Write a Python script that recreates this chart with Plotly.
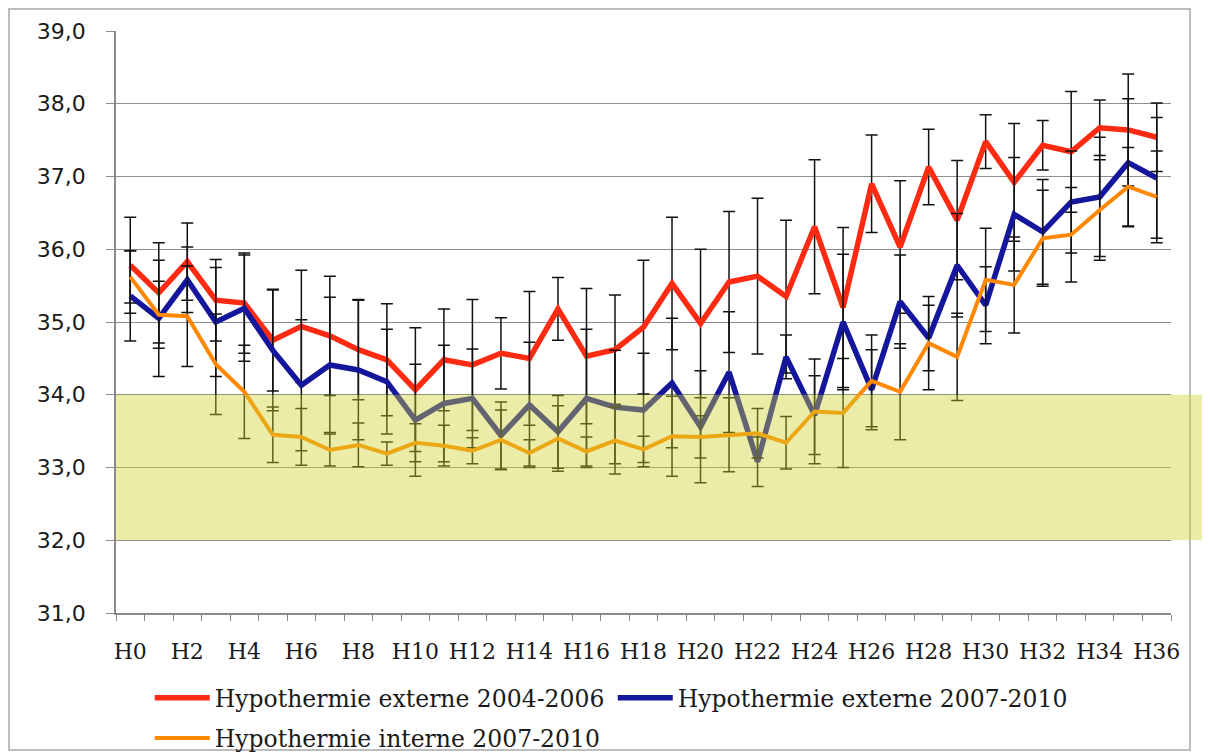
import plotly.graph_objects as go

# --- data ---
hours = [f"H{i}" for i in range(37)]

ext_0406 = [35.78, 35.40, 35.83, 35.30, 35.26, 34.75, 34.94, 34.81, 34.62, 34.48,
            34.07, 34.48, 34.41, 34.57, 34.50, 35.18, 34.53, 34.62, 34.93, 35.53,
            34.98, 35.55, 35.63, 35.35, 36.31, 35.20, 36.90, 36.03, 37.13, 36.40,
            37.48, 36.92, 37.43, 37.34, 37.67, 37.64, 37.54]
ext_0406_sd = [0.66, 0.69, 0.53, 0.56, 0.69, 0.70, 0.77, 0.82, 0.69, 0.77,
               0.85, 0.70, 0.90, 0.49, 0.92, 0.43, 0.93, 0.75, 0.92, 0.91,
               1.02, 0.97, 1.07, 1.05, 0.92, 1.10, 0.67, 0.91, 0.52, 0.82,
               0.37, 0.81, 0.34, 0.83, 0.38, 0.77, 0.47]

ext_0710 = [35.36, 35.05, 35.58, 35.00, 35.19, 34.61, 34.13, 34.41, 34.34, 34.18,
            33.65, 33.88, 33.95, 33.44, 33.86, 33.49, 33.95, 33.83, 33.79, 34.16,
            33.56, 34.31, 33.08, 34.52, 33.72, 35.00, 34.07, 35.28, 34.78, 35.78,
            35.23, 36.48, 36.24, 36.65, 36.72, 37.19, 36.98]
ext_0710_sd = [0.62, 0.80, 0.45, 0.75, 0.73, 0.83, 0.90, 0.93, 0.96, 0.72,
               0.77, 0.80, 0.68, 0.46, 0.86, 0.50, 0.95, 0.78, 0.78, 0.89,
               0.77, 0.83, 0.34, 0.30, 0.54, 0.93, 0.55, 0.64, 0.45, 0.71,
               0.53, 0.78, 0.72, 0.70, 0.82, 0.88, 0.83]

int_0710 = [35.62, 35.10, 35.08, 34.42, 34.04, 33.45, 33.42, 33.24, 33.31, 33.19,
            33.34, 33.30, 33.23, 33.38, 33.20, 33.40, 33.22, 33.37, 33.25, 33.43,
            33.42, 33.45, 33.47, 33.34, 33.77, 33.75, 34.19, 34.04, 34.71, 34.52,
            35.58, 35.51, 36.15, 36.20, 36.54, 36.86, 36.72]
int_0710_sd = [0.36, 0.46, 0.69, 0.69, 0.64, 0.38, 0.39, 0.22, 0.30, 0.16,
               0.26, 0.28, 0.18, 0.41, 0.18, 0.45, 0.20, 0.46, 0.18, 0.55,
               0.29, 0.51, 0.34, 0.36, 0.72, 0.75, 0.63, 0.66, 0.64, 0.60,
               0.71, 0.66, 0.66, 0.65, 0.69, 0.54, 0.63]

target_low, target_high = 32.0, 34.0

series = [
    ("Hypothermie externe 2004-2006", ext_0406, ext_0406_sd, "#ff2a12", 5.5, "legend"),
    ("Hypothermie externe 2007-2010", ext_0710, ext_0710_sd, "#14169c", 5.5, "legend"),
    ("Hypothermie interne 2007-2010", int_0710, int_0710_sd, "#ff8800", 4, "legend2"),
]

fig = go.Figure()
for name, vals, sd, color, width, leg in series:
    fig.add_trace(go.Scatter(
        x=hours, y=vals, name=name, mode="lines",
        line=dict(color=color, width=width),
        error_y=dict(type="data", array=sd, visible=True,
                     color="#111111", thickness=1.5, width=6),
        legend=leg,
    ))

# pale yellow target band laid over the curves (extends past the plot edge)
fig.add_shape(type="rect", xref="paper", yref="y",
              x0=0, x1=1.037, y0=target_low, y1=target_high,
              fillcolor="rgba(210,210,50,0.42)", line_width=0, layer="above")

# outer frame
fig.add_shape(type="rect", xref="paper", yref="paper",
              x0=-0.1014, x1=1.018, y0=-0.2354, y1=1.0378,
              line=dict(color="#bdbdbd", width=2), fillcolor="rgba(0,0,0,0)",
              layer="below")

label_font = dict(family="DejaVu Serif", size=22, color="#1a1a1a")
legend_font = dict(family="DejaVu Serif", size=23.5, color="#1a1a1a")

# the page body adds an 8px margin, so the figure is 8px smaller than the window
fig.update_layout(
    width=1202, height=748,
    paper_bgcolor="white", plot_bgcolor="white",
    separators=", ",
    margin=dict(l=108, r=39, t=23, b=143, autoexpand=False),
    showlegend=True,
    xaxis=dict(
        type="category", categoryorder="array", categoryarray=hours,
        range=[-0.5, len(hours) - 0.5],
        tickvals=hours,
        ticktext=[h if i % 2 == 0 else "" for i, h in enumerate(hours)],
        tickangle=0,
        tickson="boundaries", ticks="outside", ticklen=6, tickcolor="#8a8a8a",
        showline=True, linecolor="#8a8a8a", linewidth=1.5,
        showgrid=False, tickfont=label_font, ticklabelstandoff=18,
    ),
    yaxis=dict(
        range=[31, 39], dtick=1, tickformat=".1f",
        ticks="outside", ticklen=8, tickcolor="#8a8a8a",
        showline=True, linecolor="#8a8a8a", linewidth=1.5,
        showgrid=True, gridcolor="#8c8c8c", gridwidth=1,
        zeroline=False, ticklabelstandoff=16,
        tickfont=dict(family="DejaVu Sans", size=22, color="#1a1a1a"),
    ),
    legend=dict(
        orientation="h", x=0.032, xanchor="left", y=-0.146, yanchor="middle",
        font=legend_font, itemwidth=55, entrywidth=393, bgcolor="rgba(0,0,0,0)",
    ),
    legend2=dict(
        orientation="h", x=0.032, xanchor="left", y=-0.215, yanchor="middle",
        font=legend_font, itemwidth=55, bgcolor="rgba(0,0,0,0)",
    ),
)

fig.write_html("out.html")
